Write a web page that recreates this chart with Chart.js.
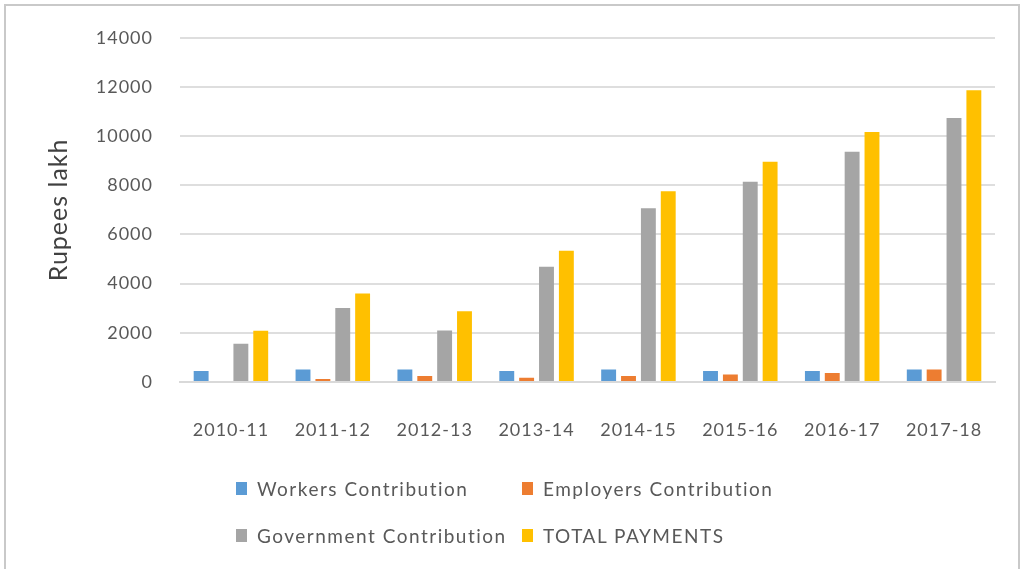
<!DOCTYPE html>
<html>
<head>
<meta charset="utf-8">
<script src="https://cdn.jsdelivr.net/npm/chart.js@4.4.0/dist/chart.umd.min.js"></script>
<style>
  html, body { margin: 0; padding: 0; background: #fff; overflow: hidden; }
  #wrap { position: relative; width: 1026px; height: 569px; }
  #frame { position: absolute; left: 4px; top: 4px; width: 1016px; height: 600px; border: 2px solid #c9c9c9; box-sizing: border-box; }
  #chart { position: absolute; left: 0; top: 0; }
  .legend { position: absolute; font-family: Lato, sans-serif; font-size: 19px; color: #595959; letter-spacing: 1.5px; white-space: nowrap; }
  .legend span.box { position: absolute; left: 0; top: 5px; width: 11px; height: 13px; }
  .legend span.txt { position: absolute; left: 21px; top: 0; }
</style>
</head>
<body>
<div id="wrap">
  <div id="frame"></div>
  <canvas id="chart" width="1026" height="569"></canvas>
  <div id="legend"></div>
</div>
<script>
// datos (Rupees lakh)
const years = ['2010-11', '2011-12', '2012-13', '2013-14', '2014-15', '2015-16', '2016-17', '2017-18'];
const workers = [443, 508, 508, 443, 508, 443, 443, 508];
const employers = [0, 120, 242, 175, 242, 306, 363, 508];
const government = [1556, 3008, 2097, 4690, 7069, 8150, 9367, 10738];
const totalPayments = [2080, 3600, 2875, 5335, 7754, 8960, 10173, 11867];
const yTicks = [0, 2000, 4000, 6000, 8000, 10000, 12000, 14000];

const seriesNames = ['Workers Contribution', 'Employers Contribution', 'Government Contribution', 'TOTAL PAYMENTS'];
const seriesColors = ['#5B9BD5', '#ED7D31', '#A5A5A5', '#FFC000'];
const seriesData = [workers, employers, government, totalPayments];

const ctx = document.getElementById('chart').getContext('2d');

// espaciado de letras para imitar el texto original
const spacingPlugin = {
    id: 'spacing',
    beforeDraw(chart) { chart.ctx.letterSpacing = '1px'; }
};

new Chart(ctx, {
    type: 'bar',
    data: {
        labels: years,
        datasets: seriesNames.map((name, i) => ({
            label: name,
            data: seriesData[i],
            backgroundColor: seriesColors[i],
            borderWidth: 0,
            barPercentage: 0.75,
            categoryPercentage: 0.78
        }))
    },
    options: {
        responsive: false,
        animation: false,
        layout: { padding: { left: 44, top: 35, right: 31, bottom: 0 } },
        plugins: {
            legend: { display: false },
            tooltip: { enabled: false }
        },
        scales: {
            x: {
                grid: { display: false },
                border: { color: '#d9d9d9', width: 2 },
                ticks: { color: '#595959', font: { family: 'Lato', size: 18 }, padding: 29, maxRotation: 0 },
                afterFit(scale) { scale.height = 187; }
            },
            y: {
                min: 0,
                max: 14000,
                afterBuildTicks(scale) { scale.ticks = yTicks.map(v => ({ value: v })); },
                grid: { color: '#dedede', lineWidth: 2, drawTicks: false },
                border: { display: false },
                ticks: {
                    color: '#595959',
                    font: { family: 'Lato', size: 18 },
                    padding: 27,
                    callback: v => String(v)
                },
                title: { display: true, text: 'Rupees lakh', color: '#404040', font: { family: 'Lato', size: 25 }, padding: 0 },
                afterFit(scale) { scale.width = 136; }
            }
        }
    },
    plugins: [spacingPlugin]
});

// leyenda en dos columnas, como en el original
const legendPos = [[236, 477], [522, 477], [236, 524], [522, 524]];
const legendBox = document.getElementById('legend');
seriesNames.forEach((name, i) => {
    const item = document.createElement('div');
    item.className = 'legend';
    item.style.left = legendPos[i][0] + 'px';
    item.style.top = legendPos[i][1] + 'px';
    item.innerHTML = '<span class="box" style="background:' + seriesColors[i] + '"></span><span class="txt">' + name + '</span>';
    legendBox.appendChild(item);
});
</script>
</body>
</html>
